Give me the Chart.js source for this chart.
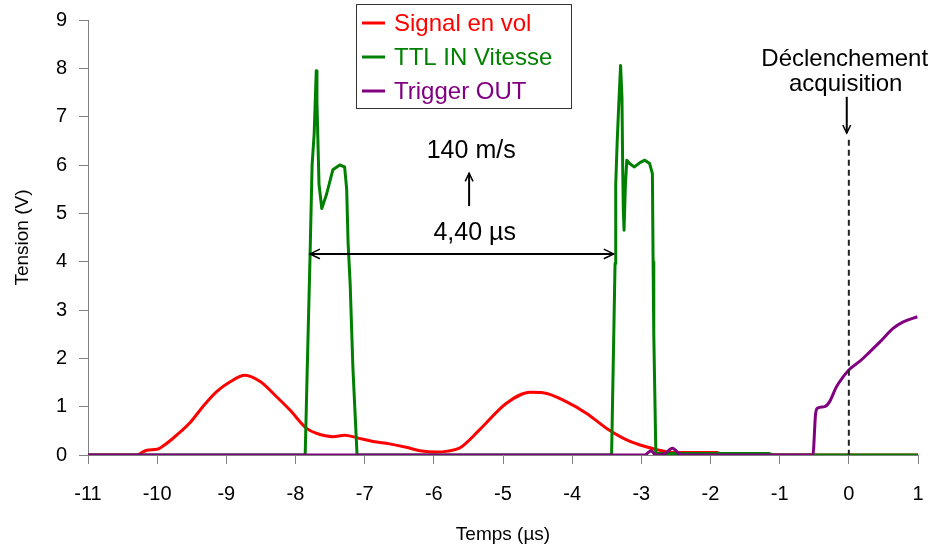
<!DOCTYPE html>
<html>
<head>
<meta charset="utf-8">
<script src="https://cdn.jsdelivr.net/npm/chart.js@4.4.1/dist/chart.umd.min.js"></script>
<style>
html,body{margin:0;padding:0;background:#fff;}
#wrap{width:935px;height:551px;}
</style>
</head>
<body>
<div id="wrap"><canvas id="c" width="935" height="551"></canvas></div>
<script>
// ---- data ----
const seriesNames = ['Signal en vol', 'TTL IN Vitesse', 'Trigger OUT'];
const seriesColors = ['#FF0000', '#008000', '#800080'];

const signalX = [-11, -10.3, -10.15, -10.0, -9.9, -9.81, -9.53, -9.34, -9.14, -8.95, -8.73, -8.51, -8.27, -8.08, -7.84, -7.7, -7.46, -7.29, -7.12, -6.88, -6.64, -6.4, -6.2, -5.96, -5.8, -5.62, -5.34, -4.95, -4.61, -4.42, -4.08, -3.79, -3.5, -3.22, -2.93, -2.64, -2.45, -1.9, -1.85, 1];
const signalY = [0, 0, 0.1, 0.12, 0.2, 0.3, 0.66, 1.0, 1.31, 1.51, 1.65, 1.52, 1.2, 0.93, 0.55, 0.45, 0.38, 0.41, 0.36, 0.28, 0.23, 0.16, 0.09, 0.06, 0.08, 0.15, 0.52, 1.07, 1.3, 1.29, 1.1, 0.86, 0.55, 0.32, 0.17, 0.07, 0.05, 0.05, 0, 0];

const ttlX = [-11, -7.86, -7.83, -7.79, -7.76, -7.73, -7.70, -7.69, -7.66, -7.62, -7.55, -7.46, -7.36, -7.29, -7.26, -7.24, -7.21, -7.17, -7.11, -3.43, -3.38, -3.37, -3.35, -3.33, -3.30, -3.28, -3.27, -3.26, -3.25, -3.23, -3.21, -3.17, -3.10, -3.02, -2.95, -2.88, -2.84, -2.83, -2.82, -2.79, -1.15, -1.1, 1];
const ttlY = [0, 0, 1.8, 4.1, 6.0, 6.65, 7.95, 7.3, 5.6, 5.1, 5.4, 5.9, 6.0, 5.96, 5.5, 4.4, 3.55, 1.8, 0, 0, 3.96, 5.6, 6.45, 7.13, 8.06, 7.4, 6.0, 5.06, 4.65, 5.6, 6.1, 6.03, 5.96, 6.05, 6.1, 6.03, 5.82, 4.0, 2.5, 0.03, 0.03, 0, 0];

const trigX = [-11, -2.95, -2.86, -2.79, -2.66, -2.55, -2.45, -2.4, -0.52, -0.48, -0.45, -0.35, -0.28, -0.18, -0.08, 0, 0.16, 0.3, 0.45, 0.64, 0.78, 0.99];
const trigY = [0, 0, 0.09, 0, 0.03, 0.14, 0.02, 0, 0, 0.86, 0.97, 1.0, 1.1, 1.41, 1.62, 1.76, 1.94, 2.13, 2.34, 2.62, 2.75, 2.86];

const xTicks = [-11, -10, -9, -8, -7, -6, -5, -4, -3, -2, -1, 0, 1];
const yTicks = [0, 1, 2, 3, 4, 5, 6, 7, 8, 9];

const intervalLabel = '4,40 µs';
const speedLabel = '140 m/s';
const triggerLabel = ['Déclenchement', 'acquisition'];
const intervalStart = -7.79, intervalEnd = -3.40, intervalLevel = 4.16;

// ---- build ----
const FONT = "'Liberation Sans', Arial, Helvetica, sans-serif";
function pts(xs, ys) { return xs.map((x, i) => ({x: x, y: ys[i]})); }

function arrowHead(ctx, x, y, ang, len, spread) {
  ctx.beginPath();
  ctx.moveTo(x + len * Math.cos(ang + spread), y + len * Math.sin(ang + spread));
  ctx.lineTo(x, y);
  ctx.lineTo(x + len * Math.cos(ang - spread), y + len * Math.sin(ang - spread));
  ctx.stroke();
}

const overlay = {
  id: 'overlay',
  afterDatasetsDraw(chart) {
    const ctx = chart.ctx;
    const xs = chart.scales.x, ys = chart.scales.y;
    ctx.save();
    // dashed trigger line at x = 0
    const x0 = xs.getPixelForValue(0);
    ctx.strokeStyle = '#222';
    ctx.lineWidth = 2;
    ctx.setLineDash([6, 4]);
    ctx.beginPath();
    ctx.moveTo(x0, ys.getPixelForValue(6.52));
    ctx.lineTo(x0, ys.getPixelForValue(0));
    ctx.stroke();
    ctx.setLineDash([]);

    // double arrow
    ctx.strokeStyle = '#000';
    ctx.lineWidth = 2;
    const ya = ys.getPixelForValue(intervalLevel);
    const xa1 = xs.getPixelForValue(intervalStart), xa2 = xs.getPixelForValue(intervalEnd);
    ctx.beginPath(); ctx.moveTo(xa1, ya); ctx.lineTo(xa2, ya); ctx.stroke();
    ctx.lineWidth = 1.5;
    arrowHead(ctx, xa1, ya, 0, 11, 0.45);
    arrowHead(ctx, xa2, ya, Math.PI, 11, 0.45);

    // up arrow
    const xu = xs.getPixelForValue(-5.49);
    const yu1 = ys.getPixelForValue(5.15), yu2 = ys.getPixelForValue(5.83);
    ctx.lineWidth = 2;
    ctx.beginPath(); ctx.moveTo(xu, yu1); ctx.lineTo(xu, yu2); ctx.stroke();
    ctx.lineWidth = 1.5;
    arrowHead(ctx, xu, yu2, Math.PI / 2, 9, 0.45);

    // down arrow
    const xd = xs.getPixelForValue(-0.03);
    const yd1 = ys.getPixelForValue(7.41), yd2 = ys.getPixelForValue(6.66);
    ctx.lineWidth = 2;
    ctx.beginPath(); ctx.moveTo(xd, yd1); ctx.lineTo(xd, yd2); ctx.stroke();
    ctx.lineWidth = 1.5;
    arrowHead(ctx, xd, yd2, -Math.PI / 2, 9, 0.45);

    // texts
    ctx.fillStyle = '#000';
    ctx.textAlign = 'center';
    ctx.textBaseline = 'middle';
    ctx.font = '25px ' + FONT;
    ctx.fillText(speedLabel, xs.getPixelForValue(-5.46), ys.getPixelForValue(6.29));
    ctx.fillText(intervalLabel, xs.getPixelForValue(-5.41), ys.getPixelForValue(4.59));
    ctx.font = '24px ' + FONT;
    ctx.fillText(triggerLabel[0], xs.getPixelForValue(-0.06), ys.getPixelForValue(8.19));
    ctx.fillText(triggerLabel[1], xs.getPixelForValue(-0.045), ys.getPixelForValue(7.67));

    // legend box
    ctx.fillStyle = '#fff';
    ctx.fillRect(356.5, 4.5, 215, 104);
    ctx.strokeStyle = '#333';
    ctx.lineWidth = 1;
    ctx.strokeRect(356.5, 4.5, 215, 104);
    const rows = [23, 57, 91];
    ctx.font = '24px ' + FONT;
    ctx.textAlign = 'left';
    chart.data.datasets.forEach((ds, i) => {
      ctx.strokeStyle = ds.borderColor;
      ctx.lineWidth = 3;
      ctx.beginPath(); ctx.moveTo(362, rows[i]); ctx.lineTo(385, rows[i]); ctx.stroke();
      ctx.fillStyle = ds.borderColor;
      ctx.fillText(ds.label, 394, rows[i] + 1);
    });
    ctx.restore();
  }
};

const cfg = {
  type: 'line',
  data: {
    datasets: [
      {label: seriesNames[0], data: pts(signalX, signalY), borderColor: seriesColors[0], order: 3, cubicInterpolationMode: 'monotone'},
      {label: seriesNames[1], data: pts(ttlX, ttlY), borderColor: seriesColors[1], order: 2, tension: 0},
      {label: seriesNames[2], data: pts(trigX, trigY), borderColor: seriesColors[2], order: 1, cubicInterpolationMode: 'monotone'}
    ].map(d => Object.assign(d, {borderWidth: 3, pointRadius: 0, fill: false, borderJoinStyle: 'round'}))
  },
  options: {
    responsive: false,
    animation: false,
    devicePixelRatio: 1,
    layout: {padding: {top: 20, right: 17, left: 0, bottom: 0}},
    plugins: {legend: {display: false}, tooltip: {enabled: false}},
    scales: {
      x: {
        type: 'linear', min: -11, max: 1,
        afterBuildTicks: s => { s.ticks = xTicks.map(v => ({value: v})); },
        afterFit: s => { s.height = 96; s.paddingLeft = 0; s.paddingRight = 0; },
        ticks: {color: '#000', font: {family: FONT, size: 20}, padding: 18, maxRotation: 0, autoSkip: false},
        grid: {drawOnChartArea: false, drawTicks: true, tickLength: 9, color: '#808080'},
        border: {display: true, color: '#808080', width: 1},
        title: {display: true, text: 'Temps (µs)', color: '#000', font: {family: FONT, size: 19}, padding: {top: 0, bottom: 5}}
      },
      y: {
        type: 'linear', min: 0, max: 9,
        afterBuildTicks: s => { s.ticks = yTicks.map(v => ({value: v})); },
        afterFit: s => { s.width = 88; s.paddingTop = 0; s.paddingBottom = 0; },
        ticks: {color: '#000', font: {family: FONT, size: 20}, padding: 12},
        grid: {drawOnChartArea: false, drawTicks: true, tickLength: 9, color: '#808080'},
        border: {display: true, color: '#808080', width: 1},
        title: {display: true, text: 'Tension (V)', color: '#000', font: {family: FONT, size: 19}, padding: {top: 11, bottom: 0}}
      }
    }
  },
  plugins: [overlay]
};

new Chart(document.getElementById('c'), cfg);
</script>
</body>
</html>
